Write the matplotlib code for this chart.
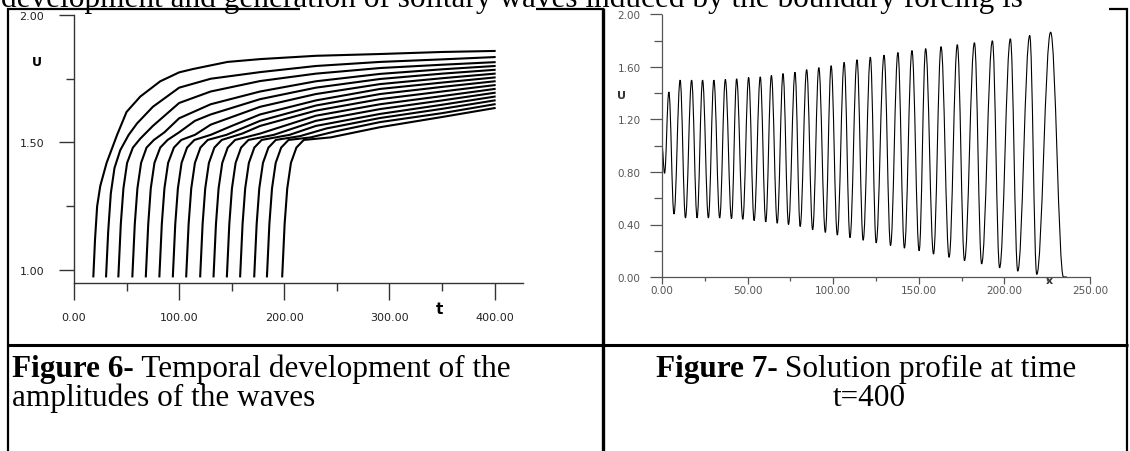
import matplotlib

matplotlib.use("Agg")
import matplotlib.pyplot as plt
from matplotlib.path import Path
from matplotlib.patches import PathPatch
from matplotlib.ticker import FormatStrFormatter, MultipleLocator

# ── Figure 6 data: wave amplitude U against time t, one curve per wave ──────
onset_t = [18.4, 30.5, 42.2, 55.5, 68.3, 81.2, 94.0, 106.7, 120.0, 132.7,
           145.4, 158.0, 171.4, 183.5, 198.0]

amp_curves = [
    [(18.4, 0.975), (20, 1.12), (22, 1.25), (25, 1.33), (31, 1.42), (41, 1.53),
     (50, 1.62), (63, 1.68), (82, 1.74), (100, 1.775), (113, 1.788), (146, 1.816),
     (177, 1.827), (230, 1.84), (291, 1.847), (350, 1.855), (400, 1.859)],
    [(30.5, 0.975), (32.5, 1.15), (35, 1.30), (38.5, 1.40), (44, 1.47), (52, 1.53),
     (60, 1.575), (75, 1.64), (100, 1.715), (130, 1.75), (177, 1.776), (230, 1.80),
     (291, 1.816), (350, 1.826), (400, 1.835)],
    [(42.2, 0.975), (44.5, 1.18), (47, 1.32), (50.5, 1.42), (56, 1.48), (63, 1.515),
     (75, 1.565), (100, 1.655), (130, 1.70), (177, 1.741), (230, 1.77), (291, 1.792),
     (350, 1.805), (400, 1.815)],
    [(55.5, 0.975), (57.8, 1.18), (60.3, 1.32), (63.8, 1.42), (69, 1.48), (76, 1.51),
     (86, 1.54), (100, 1.595), (130, 1.65), (177, 1.70), (230, 1.74), (291, 1.769),
     (350, 1.787), (400, 1.80)],
    [(68.3, 0.975), (70.6, 1.18), (73, 1.32), (76.5, 1.42), (82, 1.48), (89, 1.51),
     (100, 1.54), (115, 1.585), (130, 1.61), (177, 1.67), (230, 1.715), (291, 1.749),
     (350, 1.77), (400, 1.785)],
    [(81.2, 0.975), (83.5, 1.18), (86, 1.32), (89.5, 1.42), (95, 1.48), (102, 1.51),
     (115, 1.53), (130, 1.57), (177, 1.64), (230, 1.69), (291, 1.729), (350, 1.752),
     (400, 1.77)],
    [(94, 0.975), (96.3, 1.18), (98.8, 1.32), (102.3, 1.42), (107.5, 1.48),
     (114.5, 1.51), (130, 1.53), (150, 1.565), (177, 1.61), (230, 1.665),
     (291, 1.71), (350, 1.735), (400, 1.755)],
    [(106.7, 0.975), (109, 1.18), (111.5, 1.32), (115, 1.42), (120.2, 1.48),
     (127.2, 1.51), (145, 1.53), (177, 1.585), (230, 1.645), (291, 1.69),
     (350, 1.718), (400, 1.74)],
    [(120, 0.975), (122.3, 1.18), (124.8, 1.32), (128.3, 1.42), (133.5, 1.48),
     (140.5, 1.51), (160, 1.535), (177, 1.565), (230, 1.625), (291, 1.67),
     (350, 1.70), (400, 1.725)],
    [(132.7, 0.975), (135, 1.18), (137.5, 1.32), (141, 1.42), (146.2, 1.48),
     (153.2, 1.51), (177, 1.535), (230, 1.605), (291, 1.65), (350, 1.682),
     (400, 1.71)],
    [(145.4, 0.975), (147.7, 1.18), (150.2, 1.32), (153.7, 1.42), (158.9, 1.48),
     (165.9, 1.51), (190, 1.53), (230, 1.585), (291, 1.631), (350, 1.665),
     (400, 1.695)],
    [(158, 0.975), (160.3, 1.18), (162.8, 1.32), (166.3, 1.42), (171.5, 1.48),
     (178.5, 1.51), (205, 1.53), (230, 1.565), (291, 1.612), (350, 1.648),
     (400, 1.68)],
    [(171.4, 0.975), (173.7, 1.18), (176.2, 1.32), (179.7, 1.42), (184.9, 1.48),
     (191.9, 1.51), (215, 1.525), (240, 1.555), (291, 1.596), (350, 1.632),
     (400, 1.665)],
    [(183.5, 0.975), (185.8, 1.18), (188.3, 1.32), (191.8, 1.42), (197, 1.48),
     (204, 1.51), (225, 1.52), (250, 1.545), (291, 1.58), (350, 1.615),
     (400, 1.65)],
    [(198, 0.975), (200.3, 1.18), (202.8, 1.32), (206.3, 1.42), (211.5, 1.48),
     (218.5, 1.51), (244, 1.52), (291, 1.56), (350, 1.60), (400, 1.635)],
]

# ── Figure 7 data: profile U(x) at t=400, read as crests and troughs ────────
lead_x = [0.0, 1.5]
lead_u = [1.00, 0.79]
crest_x = [4.0, 10.6, 17.3, 23.7, 30.3, 37.0, 43.6, 50.6, 57.4, 63.9, 70.7, 77.7,
           84.5, 91.6, 98.8, 106.4, 113.9, 121.7, 129.7, 137.8, 146.0, 154.0,
           163.0, 172.5, 182.5, 193.0, 203.5, 214.8, 227.0]
crest_u = [1.41, 1.50, 1.50, 1.50, 1.50, 1.505, 1.51, 1.52, 1.525, 1.535, 1.55,
           1.56, 1.58, 1.595, 1.61, 1.635, 1.655, 1.675, 1.69, 1.71, 1.725, 1.74,
           1.755, 1.77, 1.785, 1.80, 1.815, 1.84, 1.865]
trough_x = [7.0, 13.7, 20.5, 27.1, 33.7, 40.6, 47.2, 53.8, 60.6, 67.3, 73.9, 80.7,
            88.0, 95.4, 102.4, 109.8, 117.5, 125.1, 133.5, 141.6, 150.2, 158.6,
            167.7, 176.7, 186.7, 197.2, 207.8, 218.9]
trough_u = [0.48, 0.45, 0.45, 0.45, 0.45, 0.445, 0.44, 0.43, 0.42, 0.41, 0.40,
            0.385, 0.36, 0.34, 0.32, 0.30, 0.28, 0.26, 0.24, 0.22, 0.20, 0.175,
            0.15, 0.125, 0.10, 0.07, 0.045, 0.02]
tail_x = [234.5, 236.5]
tail_u = [0.0, 0.0]

TOP_LINE = "development and generation of solitary waves induced by the boundary forcing is"

W, H = 1130, 452
SERIF = ["Liberation Serif", "DejaVu Serif"]
TEXT_SIZE = 22.5


def smooth_wave_path(xs, us):
    # cubic segments with flat tangents at every extremum, drawn by matplotlib
    verts = [(xs[0], us[0])]
    codes = [Path.MOVETO]
    for (x0, u0), (x1, u1) in zip(zip(xs[:-1], us[:-1]), zip(xs[1:], us[1:])):
        dx = 0.38 * (x1 - x0)
        verts += [(x0 + dx, u0), (x1 - dx, u1), (x1, u1)]
        codes += [Path.CURVE4] * 3
    return Path(verts, codes)


def caption(page, x, y, bold, rest, centered=False):
    style = dict(fontsize=TEXT_SIZE, family=SERIF, va="baseline", color="black")
    renderer = page.figure.canvas.get_renderer()
    tb = page.text(x, y, bold, fontweight="bold", **style)
    tr = page.text(x, y, rest, **style)
    wb = tb.get_window_extent(renderer).width
    wr = tr.get_window_extent(renderer).width
    x0 = x - (wb + wr) / 2 if centered else x
    tb.set_x(x0)
    tr.set_x(x0 + wb)


fig = plt.figure(figsize=(W / 100, H / 100), dpi=100)
fig.patch.set_facecolor("white")

# page layer in pixel units: table rules, running text and captions
page = fig.add_axes([0, 0, 1, 1])
page.set_xlim(0, W)
page.set_ylim(H, 0)
page.axis("off")

rule = dict(color="black", lw=1.6, solid_capstyle="butt")
page.plot([8, 8], [9, H], **rule)
page.plot([603, 603], [9, H], color="black", lw=2.4, solid_capstyle="butt")
page.plot([1127, 1127], [9, H], **rule)
page.plot([7, 1128], [346, 346], color="black", lw=2.2, solid_capstyle="butt")
for x0, x1 in [(7, 300), (536, 604), (1109, 1128)]:
    page.plot([x0, x1], [9.5, 9.5], **rule)

page.text(1, 7.5, TOP_LINE, fontsize=TEXT_SIZE, family=SERIF, va="baseline")

caption(page, 12, 377, "Figure 6-", " Temporal development of the")
page.text(12, 406, "amplitudes of the waves", fontsize=TEXT_SIZE, family=SERIF,
          va="baseline")
caption(page, 866, 377, "Figure 7-", " Solution profile at time", centered=True)
page.text(869, 406, "t=400", fontsize=TEXT_SIZE, family=SERIF, va="baseline",
          ha="center")

# ── Figure 6 ────────────────────────────────────────────────────────────────
ax1 = fig.add_axes([74 / W, 1 - 284 / H, 449 / W, 268 / H])
ax1.patch.set_alpha(0)
for pts in amp_curves:
    ax1.plot([p[0] for p in pts], [p[1] for p in pts], color="black", lw=1.5,
             solid_joinstyle="round")
ax1.set_xlim(0, 427)
ax1.set_ylim(0.949, 2.0)
for side in ["top", "right"]:
    ax1.spines[side].set_visible(False)
for side in ["left", "bottom"]:
    ax1.spines[side].set_color("#333333")
    ax1.spines[side].set_linewidth(1.0)
ax1.xaxis.set_major_locator(MultipleLocator(100))
ax1.xaxis.set_minor_locator(MultipleLocator(50))
ax1.yaxis.set_major_locator(MultipleLocator(0.5))
ax1.yaxis.set_minor_locator(MultipleLocator(0.25))
ax1.xaxis.set_major_formatter(FormatStrFormatter("%.2f"))
ax1.yaxis.set_major_formatter(FormatStrFormatter("%.2f"))
ax1.tick_params(axis="x", which="major", direction="out", length=12, width=1,
                pad=8.6, labelsize=8, labelcolor="#222222", color="#333333")
ax1.tick_params(axis="x", which="minor", direction="out", length=5.8, width=1,
                color="#333333")
ax1.tick_params(axis="y", which="major", direction="out", length=11, width=1,
                pad=10.5, labelsize=8, labelcolor="#222222", color="#333333")
ax1.tick_params(axis="y", which="minor", direction="out", length=5.8, width=1,
                color="#333333")
ax1.set_xlabel("t", fontsize=11, fontweight="bold", va="center")
ax1.xaxis.set_label_coords(348 / 427, -26 / 268)
ax1.set_ylabel("U", fontsize=9, fontweight="bold", rotation=0, ha="center", va="center")
ax1.yaxis.set_label_coords(-37 / 449, 221 / 268)

# ── Figure 7 ────────────────────────────────────────────────────────────────
profile_x = lead_x + [v for pair in zip(crest_x, trough_x + [None]) for v in pair if v is not None]
profile_u = lead_u + [v for pair in zip(crest_u, trough_u + [None]) for v in pair if v is not None]
profile_x += tail_x
profile_u += tail_u

ax2 = fig.add_axes([662 / W, 1 - 278 / H, 428 / W, 262.5 / H])
ax2.patch.set_alpha(0)
ax2.add_patch(PathPatch(smooth_wave_path(profile_x, profile_u), facecolor="none",
                        edgecolor="black", lw=0.8))
ax2.set_xlim(0, 250)
ax2.set_ylim(0, 2.0)
for side in ["top", "right"]:
    ax2.spines[side].set_visible(False)
for side in ["left", "bottom"]:
    ax2.spines[side].set_color("#555555")
    ax2.spines[side].set_linewidth(0.9)
ax2.xaxis.set_major_locator(MultipleLocator(50))
ax2.xaxis.set_minor_locator(MultipleLocator(25))
ax2.yaxis.set_major_locator(MultipleLocator(0.4))
ax2.yaxis.set_minor_locator(MultipleLocator(0.2))
ax2.xaxis.set_major_formatter(FormatStrFormatter("%.2f"))
ax2.yaxis.set_major_formatter(FormatStrFormatter("%.2f"))
ax2.tick_params(axis="x", which="major", direction="out", length=5, width=0.9,
                pad=1, labelsize=7.5, labelcolor="#555555", color="#555555")
ax2.tick_params(axis="x", which="minor", direction="out", length=3, width=0.9,
                color="#555555")
ax2.tick_params(axis="y", which="major", direction="out", length=9, width=0.9,
                pad=6.5, labelsize=7.5, labelcolor="#555555", color="#555555")
ax2.tick_params(axis="y", which="minor", direction="out", length=5.8, width=0.9,
                color="#555555")
ax2.set_xlabel("x", fontsize=8, fontweight="bold", color="#333333", va="center")
ax2.xaxis.set_label_coords(387 / 428, -3 / 262.5)
ax2.set_ylabel("U", fontsize=8, fontweight="bold", rotation=0, color="#333333",
               ha="center", va="center")
ax2.yaxis.set_label_coords(-40 / 428, 182 / 262.5)

fig.savefig("out.png", dpi=100, facecolor="white")
